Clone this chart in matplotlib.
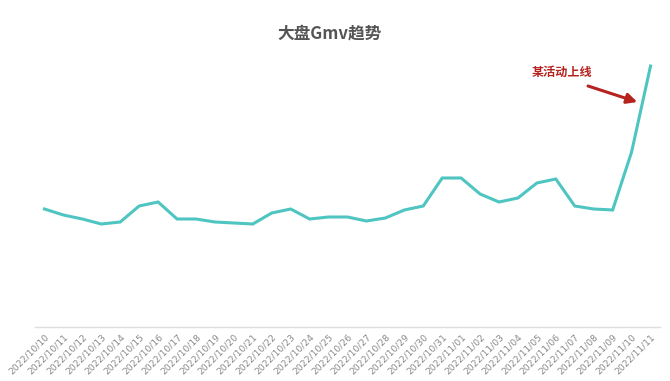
import matplotlib
matplotlib.use("Agg")
import matplotlib.pyplot as plt
import pandas as pd

plt.rcParams['font.family'] = ['Noto Sans CJK SC', 'DejaVu Sans']

dates = [d.strftime('%Y/%m/%d') for d in pd.date_range('2022-10-10', '2022-11-11')]
gmv = [118, 112, 108, 103, 105, 121, 125, 108, 108, 105, 104, 103, 114, 118,
       108, 110, 110, 106, 109, 117, 121, 149, 149, 133, 125, 129, 144, 148,
       121, 118, 117, 175, 261]
title = '大盘Gmv趋势'
note = '某活动上线'

W, H = 670, 381
fig = plt.figure(figsize=(W / 100, H / 100), dpi=100)
ax = fig.add_axes([35 / W, (H - 327) / H, (660 - 35) / W, (327 - 60) / H])

x = list(range(len(dates)))
ax.plot(x, gmv, color='#4ec5c1', linewidth=2.2, solid_joinstyle='miter')
ax.set_xlim(-0.5, len(dates) - 0.5)
ax.set_ylim(0, 267)

for s in ['top', 'right', 'left']:
    ax.spines[s].set_visible(False)
ax.spines['bottom'].set_color('#dddddd')
ax.spines['bottom'].set_linewidth(1)
ax.set_yticks([])
ax.set_xticks(x)
ax.set_xticklabels(dates, rotation=45, ha='right', va='top', rotation_mode='anchor',
                   fontsize=6.6, color='#8a8a8a', family=['DejaVu Sans'])
ax.tick_params(axis='x', length=0, pad=4)

fig.text(330 / W, 1 - 33 / H, title, ha='center', va='center', fontsize=12,
         fontweight='bold', color='#555555')

ax.annotate(note, xy=(27.3, 327 - 72), ha='center', va='center', fontsize=8.7,
            fontweight='bold', color='#b5231f')
ax.annotate('', xy=(31.3, 327 - 102), xytext=(28.7, 327 - 86),
            arrowprops=dict(arrowstyle='-|>,head_length=0.6,head_width=0.3',
                            color='#b5231f', lw=2.2, shrinkA=0, shrinkB=0))

fig.savefig('out.png', dpi=100)
